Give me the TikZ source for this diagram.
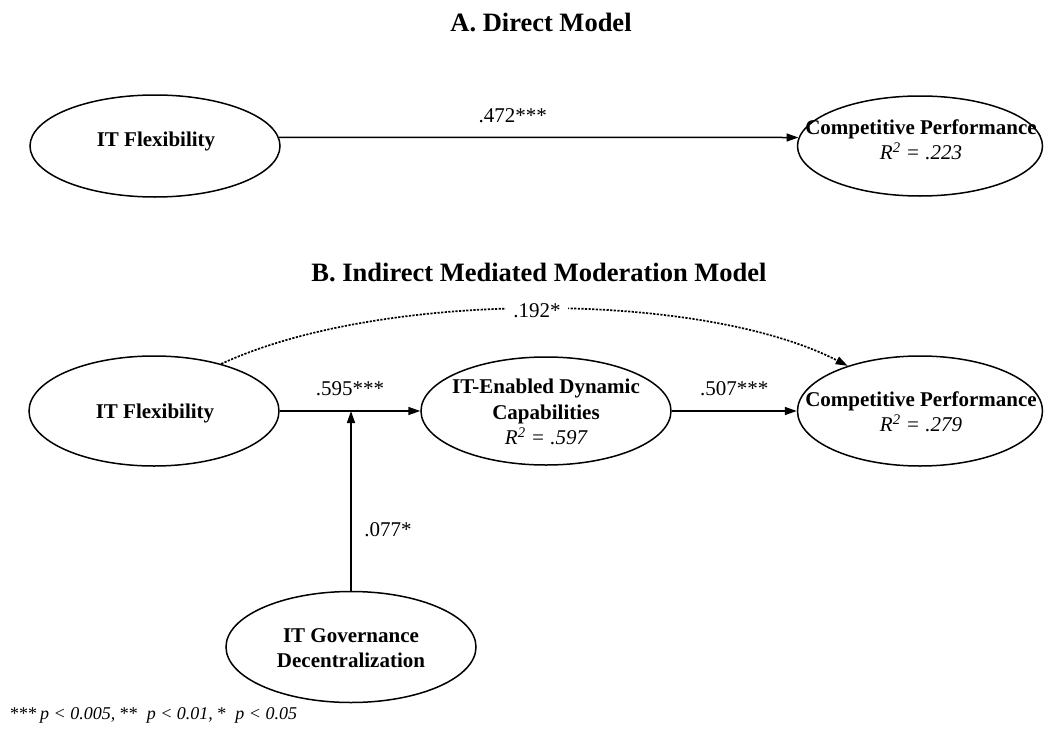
\documentclass[tikz,border=0pt]{standalone}
\usepackage{fontspec}
\setmainfont{Liberation Serif}
\usetikzlibrary{arrows.meta,shapes.geometric,calc}
\begin{document}
\begin{tikzpicture}[x=1pt,y=-1pt,
  oval/.style={draw,ellipse,line width=1.5pt,inner sep=0pt},
  ovaltext/.style={align=center,inner sep=0pt,font=\fontsize{21}{25.5}\selectfont\bfseries},
  titletext/.style={inner sep=0pt,font=\fontsize{26.5}{30}\selectfont\bfseries},
  coef/.style={inner sep=0pt,font=\fontsize{21}{25}\selectfont},
  path/.style={line width=1.5pt,-{Triangle[length=12pt,width=8pt]}},
  dpath/.style={line width=1.7pt,dash pattern=on 2.2pt off 1.4pt,-{Triangle[length=12pt,width=8pt]}},
  note/.style={inner sep=0pt,anchor=west,font=\fontsize{18}{22}\selectfont\itshape}]
\useasboundingbox (0,0) rectangle (1045,744);

% Titles
\node[titletext] (titleA) at (541,22) {A. Direct Model};
\node[titletext] (titleB) at (539,272) {B. Indirect Mediated Moderation Model};

% A. Direct model
\node[oval,minimum width=250pt,minimum height=102pt] (itf1) at (155,146) {};
\node[ovaltext] (itf1t) at (156,141) {IT Flexibility};
\node[oval,minimum width=245pt,minimum height=100pt] (cp1) at (920,146) {};
\node[ovaltext] (cp1t) at (921,140) {Competitive Performance\\[0pt]{\mdseries\itshape R\textsuperscript{2} = .223}};
\draw[path] (itf1.4) -- (cp1.176) node[coef,pos=0.45,above=14pt] (c1) {.472***};

% B. Indirect mediated moderation model
\node[oval,minimum width=250pt,minimum height=110pt] (itf2) at (154,411) {};
\node[ovaltext] (itf2t) at (155,413) {IT Flexibility};
\node[oval,minimum width=250pt,minimum height=108pt] (ed) at (546,411) {};
\node[ovaltext] (edt) at (546,412) {IT-Enabled Dynamic\\Capabilities\\{\mdseries\itshape R\textsuperscript{2} = .597}};
\node[oval,minimum width=245pt,minimum height=110pt] (cp2) at (920,411) {};
\node[ovaltext] (cp2t) at (921,412) {Competitive Performance\\[0pt]{\mdseries\itshape R\textsuperscript{2} = .279}};
\node[oval,minimum width=250pt,minimum height=111pt] (gov) at (351,647) {};
\node[ovaltext] (govt) at (351,648) {IT Governance\\Decentralization};

\draw[path] (itf2.east) -- (ed.west) node[coef,midway,above=14pt] (c2) {.595***};
\draw[path] (ed.east) -- (cp2.west) node[coef,midway,above=14pt] (c3) {.507***};
\coordinate (mod) at (gov.north |- itf2.east);
\draw[path] (gov.north) -- (mod);
\node[coef] (c4) at (388,530) {.077*};
\draw[dpath] (itf2.35) .. controls (380,290) and (700,290) .. (cp2.148);
\node[coef,fill=white,inner xsep=7pt,inner ysep=2pt] (c5) at (537,311) {.192*};

% Footnote
\node[note] (fn) at (10,715) {{\upshape***}\,p < 0.005, {\upshape**}\ \ p < 0.01, {\upshape*}\ \ p < 0.05};
\end{tikzpicture}
\end{document}
